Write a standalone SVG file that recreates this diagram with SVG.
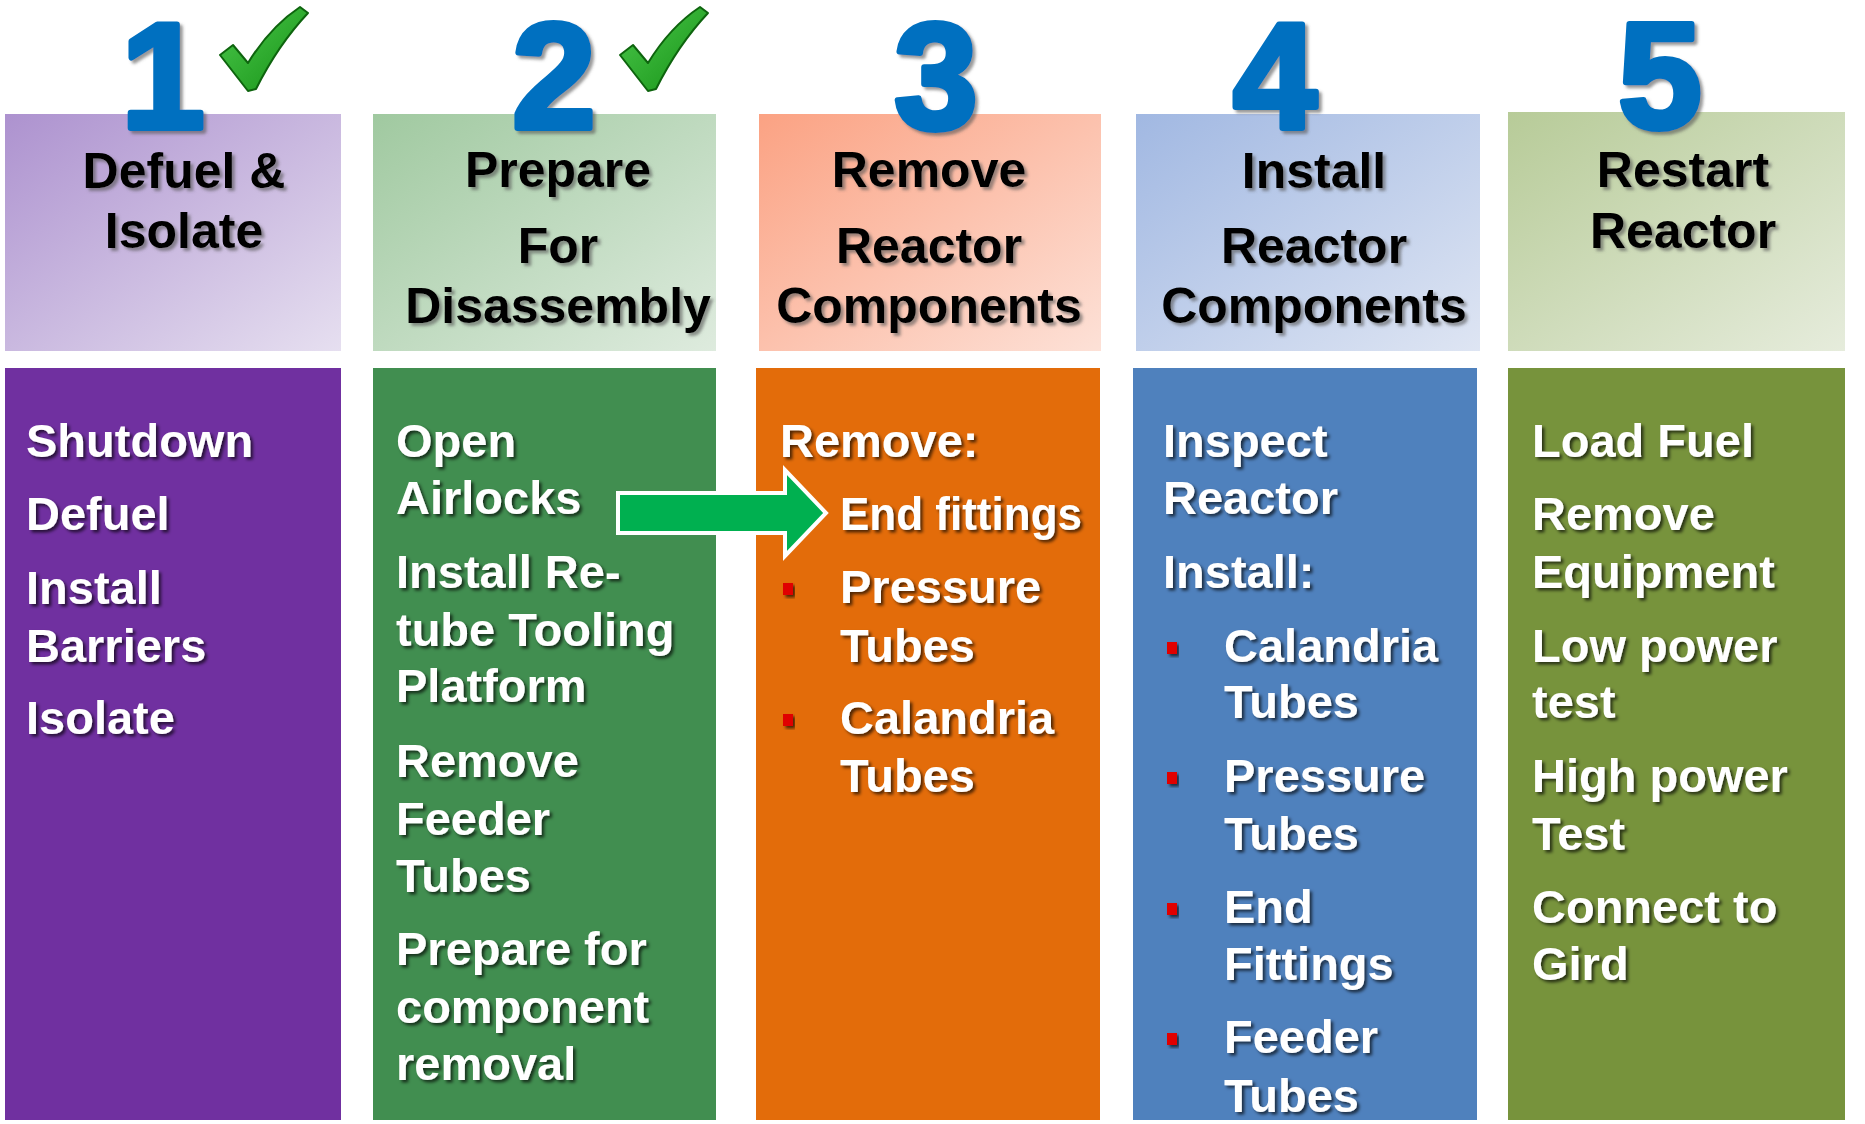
<svg xmlns="http://www.w3.org/2000/svg" width="1865" height="1124" viewBox="0 0 1865 1124">
  <defs>
    <linearGradient id="gPurple" x1="0" y1="0" x2="1" y2="1">
      <stop offset="0" stop-color="#AD92CF"/><stop offset="1" stop-color="#E6DFF0"/>
    </linearGradient>
    <linearGradient id="gGreen" x1="0" y1="0" x2="1" y2="1">
      <stop offset="0" stop-color="#A0C9A0"/><stop offset="1" stop-color="#DEEBDE"/>
    </linearGradient>
    <linearGradient id="gOrange" x1="0" y1="0" x2="1" y2="1">
      <stop offset="0" stop-color="#FBA283"/><stop offset="1" stop-color="#FDE1D7"/>
    </linearGradient>
    <linearGradient id="gBlue" x1="0" y1="0" x2="1" y2="1">
      <stop offset="0" stop-color="#A1B8E2"/><stop offset="1" stop-color="#DEE5F3"/>
    </linearGradient>
    <linearGradient id="gOlive" x1="0" y1="0" x2="1" y2="1">
      <stop offset="0" stop-color="#B7CB98"/><stop offset="1" stop-color="#E6ECDC"/>
    </linearGradient>
    <linearGradient id="gCheck" x1="0" y1="0" x2="1" y2="1">
      <stop offset="0" stop-color="#4CC84C"/><stop offset="1" stop-color="#169216"/>
    </linearGradient>
    <filter id="shDark" x="-10%" y="-20%" width="130%" height="150%">
      <feDropShadow dx="2.5" dy="2.5" stdDeviation="1.5" flood-color="#000" flood-opacity="0.65"/>
    </filter>
    <filter id="shGray" x="-10%" y="-20%" width="130%" height="150%">
      <feDropShadow dx="3" dy="3" stdDeviation="1.5" flood-color="#555" flood-opacity="0.6"/>
    </filter>
    <style>
      .head { font-family: "Liberation Sans", Arial, sans-serif; font-weight: bold; font-size: 50px; fill: #000; text-anchor: middle; filter: url(#shGray); }
      .body { font-family: "Liberation Sans", Arial, sans-serif; font-weight: bold; font-size: 47px; fill: #fff; filter: url(#shDark); }
      .num { font-family: "Liberation Sans", Arial, sans-serif; font-weight: bold; font-size: 150px; fill: #0070C0; stroke: #0070C0; stroke-width: 6; stroke-linejoin: round; text-anchor: middle; filter: url(#shGray); }
      .bullet { fill: #E00000; filter: url(#shDark); }
      .check { fill: url(#gCheck); stroke: #0E640E; stroke-width: 2; stroke-linejoin: round; }
    </style>
  </defs>

  <rect width="1865" height="1124" fill="#fff"/>

  <!-- step 1 -->
  <g id="step1-header">
    <rect x="5" y="114" width="336" height="237" fill="url(#gPurple)"/>
    <text class="head" x="184" y="188">Defuel &amp;</text>
    <text class="head" x="184" y="248">Isolate</text>
  </g>
  <g id="step1-tasks">
    <rect x="5" y="368" width="336" height="752" fill="#7030A0"/>
    <text class="body" x="26" y="457">Shutdown</text>
    <text class="body" x="26" y="530">Defuel</text>
    <text class="body" x="26" y="604">Install</text>
    <text class="body" x="26" y="662">Barriers</text>
    <text class="body" x="26" y="734">Isolate</text>
  </g>

  <!-- step 2 -->
  <g id="step2-header">
    <rect x="373" y="114" width="343" height="237" fill="url(#gGreen)"/>
    <text class="head" x="558" y="187">Prepare</text>
    <text class="head" x="558" y="263">For</text>
    <text class="head" x="558" y="323">Disassembly</text>
  </g>
  <g id="step2-tasks">
    <rect x="373" y="368" width="343" height="752" fill="#418E50"/>
    <text class="body" x="396" y="457">Open</text>
    <text class="body" x="396" y="514">Airlocks</text>
    <text class="body" x="396" y="588">Install Re-</text>
    <text class="body" x="396" y="646">tube Tooling</text>
    <text class="body" x="396" y="702">Platform</text>
    <text class="body" x="396" y="777">Remove</text>
    <text class="body" x="396" y="835">Feeder</text>
    <text class="body" x="396" y="892">Tubes</text>
    <text class="body" x="396" y="965">Prepare for</text>
    <text class="body" x="396" y="1023">component</text>
    <text class="body" x="396" y="1080">removal</text>
  </g>

  <!-- step 3 -->
  <g id="step3-header">
    <rect x="759" y="114" width="342" height="237" fill="url(#gOrange)"/>
    <text class="head" x="929" y="187">Remove</text>
    <text class="head" x="929" y="263">Reactor</text>
    <text class="head" x="929" y="323">Components</text>
  </g>
  <g id="step3-tasks">
    <rect x="756" y="368" width="344" height="752" fill="#E36C0A"/>
    <text class="body" x="780" y="457">Remove:</text>
    <text class="body" x="840" y="530" textLength="242" lengthAdjust="spacingAndGlyphs">End fittings</text>
    <rect class="bullet" x="783" y="583" width="10" height="12"/>
    <text class="body" x="840" y="603">Pressure</text>
    <text class="body" x="840" y="662">Tubes</text>
    <rect class="bullet" x="783" y="714" width="10" height="12"/>
    <text class="body" x="840" y="734">Calandria</text>
    <text class="body" x="840" y="792">Tubes</text>
  </g>

  <!-- step 4 -->
  <g id="step4-header">
    <rect x="1136" y="114" width="344" height="237" fill="url(#gBlue)"/>
    <text class="head" x="1314" y="188">Install</text>
    <text class="head" x="1314" y="263">Reactor</text>
    <text class="head" x="1314" y="323">Components</text>
  </g>
  <g id="step4-tasks">
    <rect x="1133" y="368" width="344" height="752" fill="#4F81BD"/>
    <text class="body" x="1163" y="457">Inspect</text>
    <text class="body" x="1163" y="514">Reactor</text>
    <text class="body" x="1163" y="588">Install:</text>
    <rect class="bullet" x="1167" y="642" width="10" height="12"/>
    <text class="body" x="1224" y="662">Calandria</text>
    <text class="body" x="1224" y="718">Tubes</text>
    <rect class="bullet" x="1167" y="772" width="10" height="12"/>
    <text class="body" x="1224" y="792">Pressure</text>
    <text class="body" x="1224" y="850">Tubes</text>
    <rect class="bullet" x="1167" y="903" width="10" height="12"/>
    <text class="body" x="1224" y="923">End</text>
    <text class="body" x="1224" y="980">Fittings</text>
    <rect class="bullet" x="1167" y="1033" width="10" height="12"/>
    <text class="body" x="1224" y="1053">Feeder</text>
    <text class="body" x="1224" y="1112">Tubes</text>
  </g>

  <!-- step 5 -->
  <g id="step5-header">
    <rect x="1508" y="112" width="337" height="239" fill="url(#gOlive)"/>
    <text class="head" x="1683" y="187">Restart</text>
    <text class="head" x="1683" y="248">Reactor</text>
  </g>
  <g id="step5-tasks">
    <rect x="1508" y="368" width="337" height="752" fill="#77933C"/>
    <text class="body" x="1532" y="457">Load Fuel</text>
    <text class="body" x="1532" y="530">Remove</text>
    <text class="body" x="1532" y="588">Equipment</text>
    <text class="body" x="1532" y="662">Low power</text>
    <text class="body" x="1532" y="718">test</text>
    <text class="body" x="1532" y="792">High power</text>
    <text class="body" x="1532" y="850">Test</text>
    <text class="body" x="1532" y="923">Connect to</text>
    <text class="body" x="1532" y="980">Gird</text>
  </g>

  <!-- step numbers and completion ticks -->
  <g id="step-numbers">
    <text class="num" x="163" y="128">1</text>
    <text class="num" x="554" y="128">2</text>
    <text class="num" x="936" y="128">3</text>
    <text class="num" x="1275" y="128">4</text>
    <text class="num" x="1660" y="128">5</text>
  </g>
  <g id="tick1" transform="translate(218,5)">
    <path class="check" d="M2,50 L15,40 L30,58 Q52,22 82,2 L90,8 Q60,40 38,84 L30,86 Z"/>
  </g>
  <g id="tick2" transform="translate(618,5)">
    <path class="check" d="M2,50 L15,40 L30,58 Q52,22 82,2 L90,8 Q60,40 38,84 L30,86 Z"/>
  </g>

  <!-- connectors -->
  <g id="connectors">
    <polygon points="618,493 785,493 785,470 826,513 785,556 785,533 618,533" fill="#00B050" stroke="#fff" stroke-width="4" stroke-linejoin="miter"/>
  </g>
</svg>
